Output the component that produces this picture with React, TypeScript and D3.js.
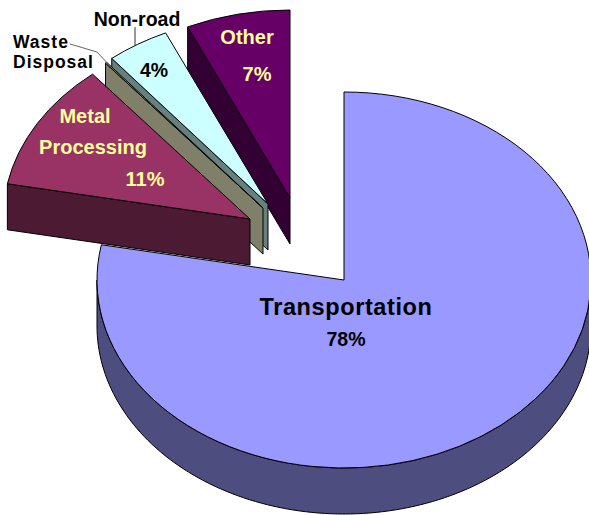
import React from 'react';
import * as d3 from 'd3';

const categories = ['Transportation', 'Metal Processing', 'Waste Disposal', 'Non-road', 'Other'];
const shares = [78, 11, 0.1, 4.1, 6.8];
const topColors = ['#9999ff', '#993366', '#999977', '#ccffff', '#660066'];
const wallColors = ['#4d4d80', '#4d1a33', '#80806a', '#668080', '#330033'];

// where each slice's tip ends up once exploded
const tips: [number, number][] = [[344, 280], [250, 219], [263, 208], [268, 204], [290, 198]];
const paintOrder = [0, 4, 3, 2, 1];

const width = 589, height = 515;
const rx = 247, ry = 188, depth = 46;
const TAU = Math.PI * 2;

const slices = d3.pie<number>().sort(null).startAngle(0).endAngle(TAU)(shares);
const arc = d3.arc<d3.PieArcDatum<number>>().innerRadius(0).outerRadius(rx);

type Pt = { x: number; y: number };
const wall = d3.area<Pt>().x(d => d.x).y0(d => d.y).y1(d => d.y + depth);

function project(tip: [number, number], angle: number, r = 1): Pt {
  return { x: tip[0] + r * rx * Math.sin(angle), y: tip[1] - r * ry * Math.cos(angle) };
}

// rim of the big slice, only the half that faces the viewer
function rimWall(tip: [number, number]) {
  const angles = d3.range(0, 121).map(i => Math.PI / 2 + (i / 120) * Math.PI);
  return wall(angles.map(a => project(tip, a)));
}

// flat cut face along the slice's leading edge
function cutWall(tip: [number, number], angle: number) {
  return wall([project(tip, angle), project(tip, angle, 0)]);
}

function Slice({ i }: { i: number }) {
  const s = slices[i];
  const tip = tips[i];
  return (
    <g stroke="#000" strokeWidth={1} strokeLinejoin="round">
      <path d={i === 0 ? rimWall(tip)! : cutWall(tip, s.startAngle)!} fill={wallColors[i]} />
      <g transform={`translate(${tip[0]},${tip[1]}) scale(1,${ry / rx})`}>
        <path d={arc(s)!} fill={topColors[i]} vectorEffect="non-scaling-stroke" />
      </g>
    </g>
  );
}

const pct = (i: number) => `${Math.round(shares[i])}%`;

export default function App() {
  return (
    <svg width={width} height={height} viewBox={`0 0 ${width} ${height}`}
      style={{ position: 'absolute', left: 0, top: 0, background: '#fff' }}
      fontFamily="'Liberation Sans', Arial, sans-serif" fontWeight="bold" textAnchor="middle">
      {paintOrder.map(i => <Slice key={categories[i]} i={i} />)}

      <polyline points="70,44 97,52 112,68" fill="none" stroke="#666" strokeWidth={1} />
      <line x1={135} y1={27} x2={135} y2={46} stroke="#333" strokeWidth={1} />

      <text x={346} y={315} fontSize={23.5} letterSpacing={0.6} fill="#000">{categories[0]}</text>
      <text x={346} y={346} fontSize={19.5} fill="#000">{pct(0)}</text>

      <g fill="#ffff99" fontSize={20}>
        <text x={85} y={123}>Metal</text>
        <text x={93} y={154}>Processing</text>
        <text x={145} y={186}>{pct(1)}</text>
        <text x={247} y={44}>{categories[4]}</text>
        <text x={257} y={81}>{pct(4)}</text>
      </g>

      <g fill="#000">
        <text x={154} y={77} fontSize={19.5}>{pct(3)}</text>
        <text x={137} y={26} fontSize={19.5}>{categories[3]}</text>
        <text x={13} y={48} fontSize={17.5} letterSpacing={1} textAnchor="start">Waste</text>
        <text x={13} y={68} fontSize={17.5} letterSpacing={1} textAnchor="start">Disposal</text>
      </g>
    </svg>
  );
}
